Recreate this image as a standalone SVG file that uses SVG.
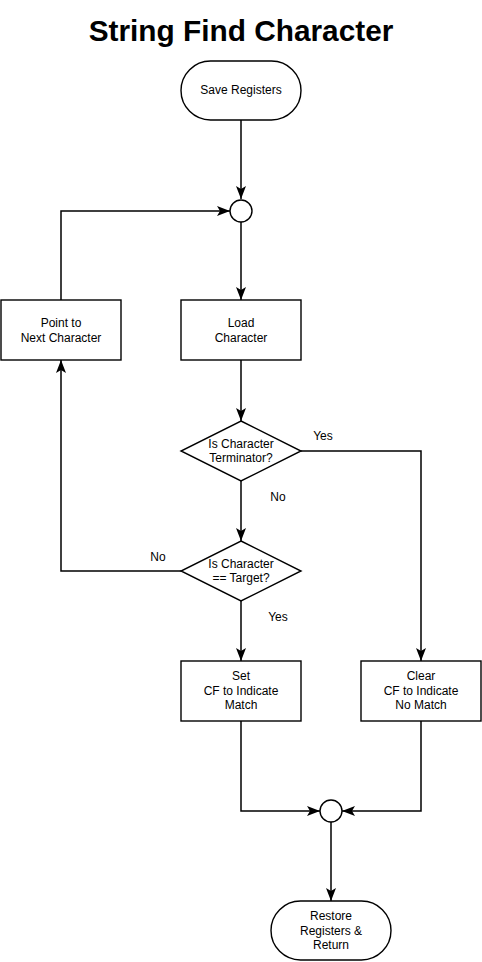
<svg xmlns="http://www.w3.org/2000/svg" width="482" height="962" viewBox="0 0 482 962">
<style>
.s{fill:#fff;stroke:#000;stroke-width:1.4}
.t{font-family:"Liberation Sans",Arial,sans-serif;font-size:12px;fill:#000;text-anchor:middle}
.l{font-family:"Liberation Sans",Arial,sans-serif;font-size:12px;fill:#000;text-anchor:middle}
.c{fill:none;stroke:#000;stroke-width:1.5}
</style>
<defs>
<marker id="a" markerUnits="userSpaceOnUse" viewBox="0 0 13 10" refX="13" refY="5" markerWidth="13" markerHeight="10" orient="auto">
<path d="M0,0 L13,5 L0,10 L3,5 z" fill="#000"/>
</marker>
</defs>
<text x="241" y="41" font-family="'Liberation Sans',Arial,sans-serif" font-size="29.8" font-weight="bold" text-anchor="middle">String Find Character</text>
<g id="connectors">
<path class="c" d="M241,120 L241,199" marker-end="url(#a)"/>
<path class="c" d="M61,300 L61,211 L230,211" marker-end="url(#a)"/>
<path class="c" d="M241,222 L241,300" marker-end="url(#a)"/>
<path class="c" d="M241,360 L241,421" marker-end="url(#a)"/>
<path class="c" d="M301,451 L421,451 L421,661" marker-end="url(#a)"/>
<path class="c" d="M241,481 L241,541" marker-end="url(#a)"/>
<path class="c" d="M181,571 L61,571 L61,360" marker-end="url(#a)"/>
<path class="c" d="M241,601 L241,661" marker-end="url(#a)"/>
<path class="c" d="M241,721 L241,811 L320,811" marker-end="url(#a)"/>
<path class="c" d="M421,721 L421,811 L342,811" marker-end="url(#a)"/>
<path class="c" d="M331,822 L331,901" marker-end="url(#a)"/>
<text class="l" x="323" y="440">Yes</text>
<text class="l" x="278" y="501">No</text>
<text class="l" x="158" y="561">No</text>
<text class="l" x="278" y="621">Yes</text>
</g>
<g id="save">
<rect class="s" x="181" y="61" width="120" height="59" rx="29.5"/>
<text class="t" x="241" y="94">Save Registers</text>
</g>
<g id="join1">
<circle class="s" cx="241" cy="211" r="11"/>
</g>
<g id="point">
<rect class="s" x="1" y="300" width="120" height="60"/>
<text class="t" x="61" y="327">Point to</text>
<text class="t" x="61" y="342">Next Character</text>
</g>
<g id="load">
<rect class="s" x="181" y="300" width="120" height="60"/>
<text class="t" x="241" y="327">Load</text>
<text class="t" x="241" y="342">Character</text>
</g>
<g id="term">
<polygon class="s" points="241,421 301,451 241,481 181,451"/>
<text class="t" x="241" y="448">Is Character</text>
<text class="t" x="241" y="462">Terminator?</text>
</g>
<g id="target">
<polygon class="s" points="241,541 301,571 241,601 181,571"/>
<text class="t" x="241" y="568">Is Character</text>
<text class="t" x="241" y="582">== Target?</text>
</g>
<g id="set">
<rect class="s" x="181" y="661" width="120" height="60"/>
<text class="t" x="241" y="680">Set</text>
<text class="t" x="241" y="695">CF to Indicate</text>
<text class="t" x="241" y="709">Match</text>
</g>
<g id="clear">
<rect class="s" x="361" y="661" width="120" height="60"/>
<text class="t" x="421" y="680">Clear</text>
<text class="t" x="421" y="695">CF to Indicate</text>
<text class="t" x="421" y="709">No Match</text>
</g>
<g id="join2">
<circle class="s" cx="331" cy="811" r="11"/>
</g>
<g id="restore">
<rect class="s" x="271" y="901" width="120" height="59" rx="29.5"/>
<text class="t" x="331" y="920">Restore</text>
<text class="t" x="331" y="935">Registers &amp;</text>
<text class="t" x="331" y="949">Return</text>
</g>
</svg>
